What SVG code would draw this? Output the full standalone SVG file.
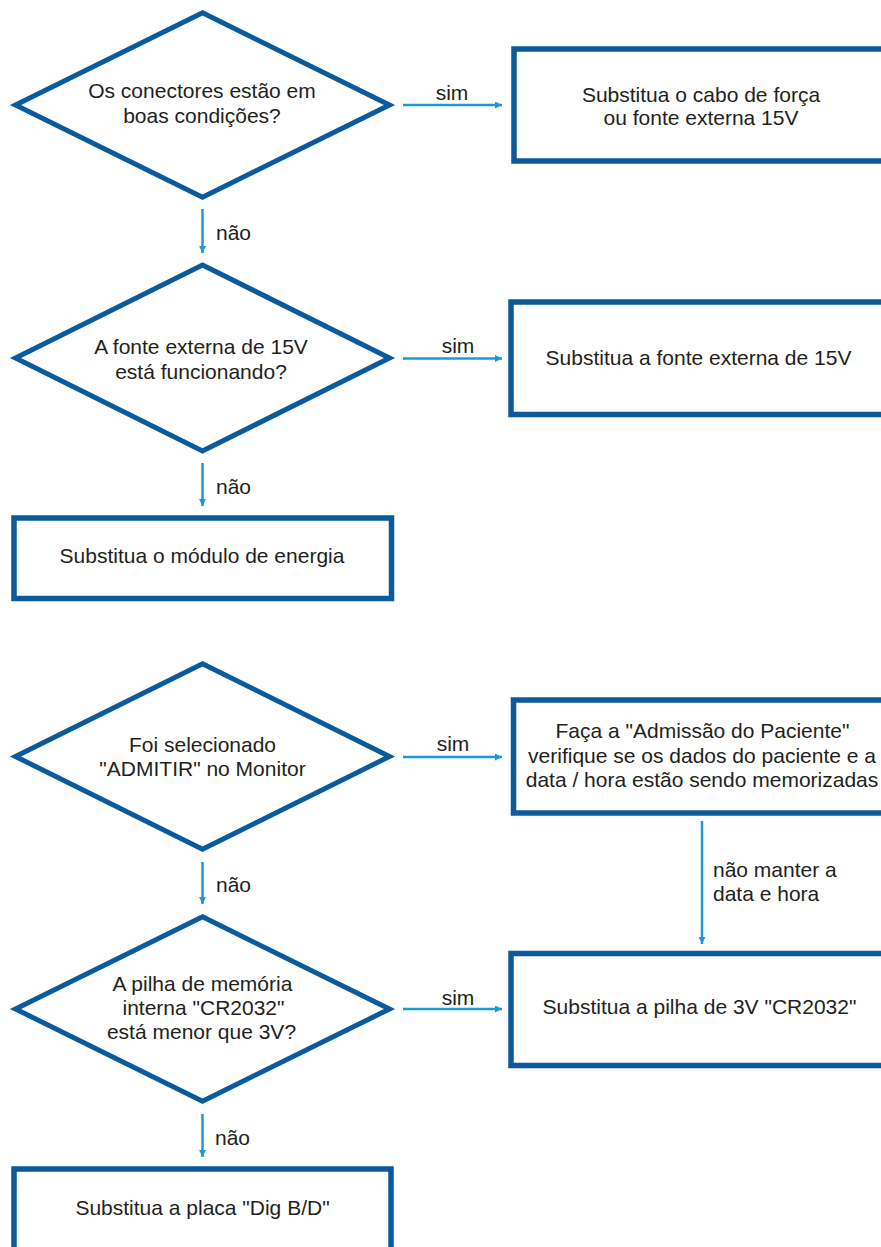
<svg xmlns="http://www.w3.org/2000/svg" width="881" height="1247" viewBox="0 0 881 1247">
  <style>
    .shape { fill: #ffffff; stroke: #0b5a9c; stroke-width: 5; stroke-linejoin: miter; }
    .box { fill: #ffffff; stroke: #0b5a9c; stroke-width: 5.5; }
    .label { font-family: "Liberation Sans", Arial, sans-serif; font-size: 21px; fill: #231f20; }
    .mid { text-anchor: middle; }
    .link { stroke: #1b9ad7; stroke-width: 2.5; fill: none; marker-end: url(#head); }
  </style>
  <defs>
    <marker id="head" viewBox="0 0 10 10" refX="10" refY="5" markerWidth="7" markerHeight="7" markerUnits="userSpaceOnUse" orient="auto">
      <path d="M0,0 L10,5 L0,10 Z" fill="#1b9ad7"/>
    </marker>
  </defs>
  <rect width="881" height="1247" fill="#ffffff"/>

  <!-- first section: power supply -->
  <g id="q-conectores">
    <polygon class="shape" points="202.5,12.8 389.5,105 202.5,197.2 15.5,105"/>
    <text class="label mid" x="202" y="98">Os conectores estão em</text>
    <text class="label mid" x="202" y="123">boas condições?</text>
  </g>
  <g id="a-cabo">
    <rect class="box" x="514" y="49" width="390" height="112"/>
    <text class="label mid" x="701" y="102">Substitua o cabo de força</text>
    <text class="label mid" x="701" y="125">ou fonte externa 15V</text>
  </g>
  <g id="q-fonte">
    <polygon class="shape" points="202.5,265 389.5,358 202.5,451 15.5,358"/>
    <text class="label mid" x="201" y="354">A fonte externa de 15V</text>
    <text class="label mid" x="201" y="379">está funcionando?</text>
  </g>
  <g id="a-fonte">
    <rect class="box" x="511" y="302" width="390" height="112.5"/>
    <text class="label mid" x="698.5" y="365">Substitua a fonte externa de 15V</text>
  </g>
  <g id="a-modulo">
    <rect class="box" x="14" y="518" width="377.5" height="80.5"/>
    <text class="label mid" x="202" y="563">Substitua o módulo de energia</text>
  </g>

  <!-- second section: memory / date -->
  <g id="q-admitir">
    <polygon class="shape" points="202.5,663.8 389.5,756.5 202.5,849.2 15.5,756.5"/>
    <text class="label mid" x="202.5" y="752">Foi selecionado</text>
    <text class="label mid" x="202.5" y="776">"ADMITIR" no Monitor</text>
  </g>
  <g id="a-admissao">
    <rect class="box" x="513.5" y="700" width="390" height="113"/>
    <text class="label mid" x="702.5" y="738">Faça a "Admissão do Paciente"</text>
    <text class="label mid" x="702" y="763">verifique se os dados do paciente e a</text>
    <text class="label mid" x="702" y="787">data / hora estão sendo memorizadas</text>
  </g>
  <g id="q-pilha">
    <polygon class="shape" points="202.5,916.8 389.5,1009 202.5,1101.2 15.5,1009"/>
    <text class="label mid" x="202.5" y="991">A pilha de memória</text>
    <text class="label mid" x="203.5" y="1015">interna "CR2032"</text>
    <text class="label mid" x="201.5" y="1039">está menor que 3V?</text>
  </g>
  <g id="a-pilha">
    <rect class="box" x="511" y="953.5" width="390" height="112"/>
    <text class="label mid" x="699.5" y="1014">Substitua a pilha de 3V "CR2032"</text>
  </g>
  <g id="a-placa">
    <rect class="box" x="14" y="1169" width="377" height="120"/>
    <text class="label mid" x="202.5" y="1215">Substitua a placa "Dig B/D"</text>
  </g>

  <!-- connectors -->
  <g id="connectors">
    <line class="link" x1="403" y1="105" x2="502" y2="105"/>
    <text class="label mid" x="452" y="100">sim</text>
    <line class="link" x1="202.5" y1="209" x2="202.5" y2="253"/>
    <text class="label" x="216" y="240">não</text>

    <line class="link" x1="403" y1="358.5" x2="502" y2="358.5"/>
    <text class="label mid" x="458" y="353">sim</text>
    <line class="link" x1="202.5" y1="463" x2="202.5" y2="506"/>
    <text class="label" x="216" y="494">não</text>

    <line class="link" x1="403" y1="757" x2="502" y2="757"/>
    <text class="label mid" x="453" y="751">sim</text>
    <line class="link" x1="202.5" y1="862" x2="202.5" y2="904"/>
    <text class="label" x="216" y="892">não</text>

    <line class="link" x1="702" y1="821" x2="702" y2="944"/>
    <text class="label" x="713" y="877">não manter a</text>
    <text class="label" x="713" y="901">data e hora</text>

    <line class="link" x1="403" y1="1009" x2="502" y2="1009"/>
    <text class="label mid" x="458" y="1005">sim</text>
    <line class="link" x1="202.5" y1="1114" x2="202.5" y2="1157"/>
    <text class="label" x="215" y="1145">não</text>
  </g>
</svg>
